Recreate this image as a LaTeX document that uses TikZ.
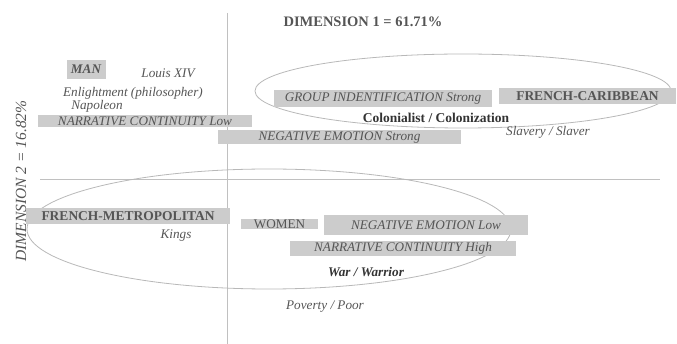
\documentclass[tikz,border=0pt]{standalone}
\usepackage{fontspec}
\setmainfont{Liberation Serif}
\usetikzlibrary{shapes.geometric}
\definecolor{boxgray}{HTML}{CCCCCC}
\definecolor{txtgray}{HTML}{555555}
\definecolor{darktxt}{HTML}{333333}
\definecolor{axisgray}{HTML}{C0C0C0}
\definecolor{ellgray}{HTML}{B8B8B8}
\begin{document}
\begin{tikzpicture}[x=1pt,y=-1pt,
  gbox/.style={fill=boxgray,draw=none,inner sep=0pt,rectangle},
  itxt/.style={font=\fontsize{13.2}{15}\selectfont\itshape,text=txtgray,inner sep=0pt},
  btxt/.style={font=\fontsize{13.5}{15}\selectfont\bfseries,text=txtgray,inner sep=0pt},
  axis/.style={draw=axisgray,line width=0.9pt},
  ell/.style={draw=ellgray,line width=0.8pt}]
\useasboundingbox (0,0) rectangle (677,344);
% axes
\coordinate (vtop) at (227,13);
\coordinate (vbot) at (227,344);
\coordinate (hl) at (40,179);
\coordinate (hr) at (660,179);
\draw[axis] (vtop) -- (vbot);
\draw[axis] (hl) -- (hr);
% ellipses
\draw[ell] (463,91) ellipse [x radius=208pt, y radius=37pt];
\draw[ell] (269,229) ellipse [x radius=242pt, y radius=60pt];
% axis titles
\node[btxt,font=\fontsize{14.5}{16}\selectfont\bfseries] (d1) at (363,22) {DIMENSION 1 = 61.71\%};
\node[itxt,font=\fontsize{15.5}{17}\selectfont\itshape,rotate=90] (d2) at (21,181) {DIMENSION 2 = 16.82\%};
% boxes
\node[gbox,minimum width=39pt,minimum height=19pt] (manb) at (86,69.5) {};
\node[gbox,minimum width=214pt,minimum height=12pt] (nclb) at (145,121) {};
\node[gbox,minimum width=243pt,minimum height=14pt] (nesb) at (339.5,137.5) {};
\node[gbox,minimum width=218pt,minimum height=17pt] (grpb) at (383,98.5) {};
\node[gbox,minimum width=177pt,minimum height=16pt] (fcb) at (587.5,96.5) {};
\node[gbox,minimum width=204pt,minimum height=16pt] (fmb) at (128,216) {};
\node[gbox,minimum width=77pt,minimum height=10pt] (wb) at (279.5,224.5) {};
\node[gbox,minimum width=204pt,minimum height=20pt] (nelb) at (426,225.5) {};
\node[gbox,minimum width=226pt,minimum height=15pt] (nchb) at (403,248.5) {};
% box labels
\node[itxt,font=\fontsize{13.2}{15}\selectfont\bfseries\itshape] (man) at (manb) {MAN};
\node[itxt] (ncl) at (nclb) {NARRATIVE CONTINUITY Low};
\node[itxt] (nes) at (nesb) {NEGATIVE EMOTION Strong};
\node[itxt] (grp) at (grpb) {GROUP INDENTIFICATION Strong};
\node[btxt] (fc) at (fcb) {FRENCH-CARIBBEAN};
\node[btxt] (fm) at (fmb) {FRENCH-METROPOLITAN};
\node[itxt,font=\fontsize{13.2}{15}\selectfont\upshape] (w) at (wb) {WOMEN};
\node[itxt] (nel) at (nelb) {NEGATIVE EMOTION Low};
\node[itxt] (nch) at (nchb) {NARRATIVE CONTINUITY High};
% free labels
\node[itxt] (louis) at (168,73) {Louis XIV};
\node[itxt] (enl) at (133,93) {Enlightment (philosopher)};
\node[itxt] (nap) at (97,106) {Napoleon};
\node[btxt,text=darktxt] (col) at (436,118) {Colonialist / Colonization};
\node[itxt] (slav) at (548,132) {Slavery / Slaver};
\node[itxt] (kings) at (176,236) {Kings};
\node[itxt,font=\fontsize{13.2}{15}\selectfont\bfseries\itshape,text=darktxt] (war) at (366,272) {War / Warrior};
\node[itxt] (pov) at (325,307) {Poverty / Poor};
\end{tikzpicture}
\end{document}
